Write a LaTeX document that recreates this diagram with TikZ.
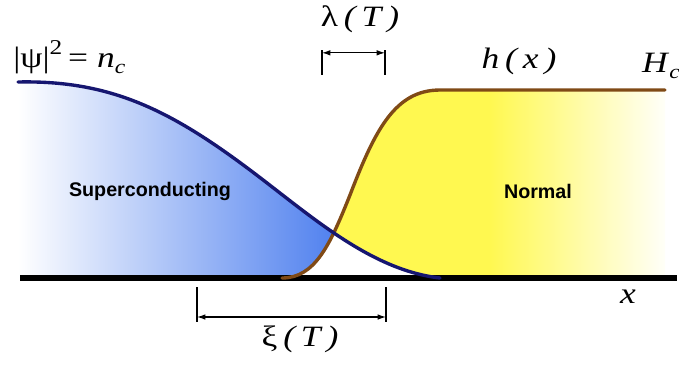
\documentclass[tikz,border=0pt]{standalone}
\usepackage{fontspec}
\setmainfont{Liberation Serif}
\newfontfamily\regionfont{Liberation Sans}
\usetikzlibrary{arrows.meta,positioning}

\definecolor{psiblue}{RGB}{22,22,112}
\definecolor{fieldbrown}{RGB}{128,74,22}
\definecolor{scblue}{RGB}{75,125,238}
\definecolor{nyellow}{RGB}{255,248,80}

% order parameter and field profiles (pixel units)
\newcommand{\psicurve}{(18,82) .. controls (110,80) and (170,110) .. (250,170) .. controls (310,215) and (370,270) .. (440,278)}
\newcommand{\fieldcurve}{(282,278) .. controls (315,278) and (330,245) .. (350,195) .. controls (375,130) and (395,90) .. (440,90) -- (665,90)}
\newcommand{\wide}[1]{\scalebox{1.2}[1]{#1}}

\begin{document}
\begin{tikzpicture}[
x=0.025cm, y=-0.025cm,
curve/.style={line width=2.4pt, line cap=round},
tick/.style={line width=0.8pt},
dim/.style={{Latex[length=6pt,width=4pt]}-{Latex[length=6pt,width=4pt]}, line width=0.8pt},
region/.style={font=\regionfont\bfseries\fontsize{14}{16}\selectfont},
symb/.style={font=\fontsize{21}{24}\selectfont, inner sep=0pt}
]
\useasboundingbox (0,0) rectangle (679,364);

% superconducting region
\begin{scope}
\clip (0,0) -- (0,278) -- \fieldcurve -- (679,90) -- (679,0) -- cycle;
\clip \psicurve -- (18,278) -- cycle;
\shade[left color=white, right color=scblue] (18,80) rectangle (345,280);
\end{scope}

% normal region
\begin{scope}
\clip (0,0) -- (0,82) -- \psicurve -- (679,278) -- (679,0) -- cycle;
\clip \fieldcurve -- (665,278) -- cycle;
\fill[nyellow] (280,88) rectangle (490,280);
\shade[left color=nyellow, right color=white] (489,88) rectangle (672,280);
\end{scope}

\draw[line width=3.6pt] (20,278) -- (677,278);
\draw[curve, fieldbrown] \fieldcurve;
\draw[curve, psiblue] \psicurve;

\node[region] (sc) at (150,191) {Superconducting};
\node[region] (nm) at (538,191) {Normal};

\node[symb, anchor=west] (psi) at (13,57) {\wide{|ψ|\raisebox{1.0ex}{\fontsize{15}{17}\selectfont 2}\,= \textit{n}\raisebox{-0.45ex}{\fontsize{14}{16}\selectfont\textit{c}}}};
\node[symb] (lam) at (360,19) {\wide{λ\,\textit{(\,T\,)}}};
\node[symb] (hx) at (519,61) {\wide{\textit{h\,(\,x\,)}}};
\node[symb] (hc) at (661,66) {\wide{\textit{H}\raisebox{-0.45ex}{\fontsize{14}{16}\selectfont\textit{c}}}};
\node[symb] (xax) at (628,297) {\wide{\textit{x}}};
\node[symb] (xi) at (300,339) {\wide{ξ\,\textit{(\,T\,)}}};

% penetration depth
\coordinate (l1) at (322,50);
\coordinate (l2) at (385,50);
\draw[tick] (l1) -- ++(0,25);
\draw[tick] (l2) -- ++(0,25);
\draw[dim] ([yshift=-2] l1) -- ([yshift=-2] l2);

% coherence length
\coordinate (c1) at (197,287);
\coordinate (c2) at (386,287);
\draw[tick] (c1) -- ++(0,35);
\draw[tick] (c2) -- ++(0,35);
\draw[dim] ([yshift=-30*0.025cm] c1) -- ([yshift=-30*0.025cm] c2);
\end{tikzpicture}
\end{document}
